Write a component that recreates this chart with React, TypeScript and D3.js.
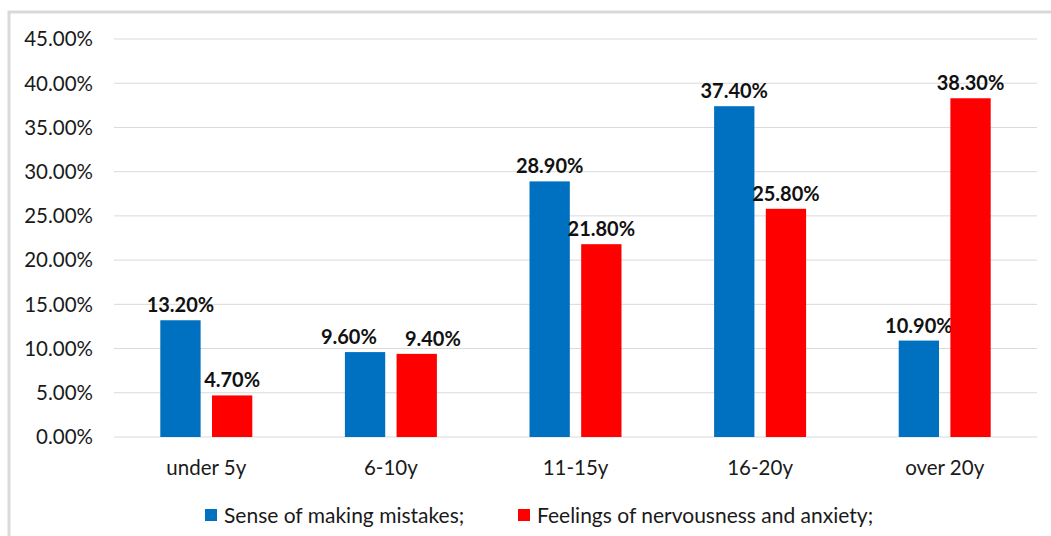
import React from "react";
import { scaleBand, scaleLinear, range } from "d3";

const categories = ["under 5y", "6-10y", "11-15y", "16-20y", "over 20y"];
const mistakes = [13.2, 9.6, 28.9, 37.4, 10.9];
const nervous = [4.7, 9.4, 21.8, 25.8, 38.3];
const seriesNames = ["Sense of making mistakes;", "Feelings of nervousness and anxiety;"];
const seriesColors = ["#0070C0", "#FF0000"];
const yTicks = range(0, 46, 5);

const W = 1051;
const H = 536;
const left = 114;
const right = 1037;
const top = 39;
const bottom = 437;
const font = "Lato, 'Open Sans', sans-serif";
const fs = 20.5;
const labelFs = 20;

// rough width of a bold value label, used to keep neighbouring labels apart
const labelWidth = (t: string) => t.length * labelFs * 0.58;

export default function App() {
  const x = scaleBand<string>().domain(categories).range([left, right]);
  const y = scaleLinear().domain([0, 45]).range([bottom, top]);
  const inner = scaleBand<number>().domain([0, 1]).range([-46, 46]).paddingInner(0.22);
  const series = [mistakes, nervous];

  return (
    <svg width={W} height={H} style={{ position: "absolute", left: 0, top: 0 }} fontFamily={font}>
      <rect x={0} y={0} width={W} height={H} fill="#fff" />
      <path d={`M9,${H} V12 H${W}`} fill="none" stroke="#d9d9d9" strokeWidth={3} />
      {yTicks.map((t) => (
        <g key={t}>
          <line x1={left} x2={right} y1={y(t)} y2={y(t)} stroke="#d9d9d9" strokeWidth={1} />
          <text x={93} y={y(t)} dy="0.36em" textAnchor="end" fontSize={fs} fill="#1a1a1a">
            {t.toFixed(2)}%
          </text>
        </g>
      ))}
      {categories.map((c, i) => {
        const cx = (x(c) ?? 0) + x.bandwidth() / 2;
        const labels = series.map((s, k) => {
          const bx = cx + (inner(k) ?? 0);
          return { t: s[i].toFixed(2) + "%", x: bx + inner.bandwidth() / 2, y: y(s[i]) - 8 };
        });
        const [a, b] = labels;
        if (Math.abs(a.y - b.y) < labelFs) {
          const need = (labelWidth(a.t) + labelWidth(b.t)) / 2 + 26;
          const have = b.x - a.x;
          if (have < need) {
            const d = (need - have) / 2;
            a.x -= d;
            b.x += d;
          }
        }
        return (
          <g key={c}>
            {series.map((s, k) => {
              const bx = cx + (inner(k) ?? 0);
              return (
                <g key={k}>
                  <rect x={bx} y={y(s[i])} width={inner.bandwidth()} height={bottom - y(s[i])} fill={seriesColors[k]} />
                  <text x={labels[k].x} y={labels[k].y} textAnchor="middle" fontSize={labelFs} fontWeight="bold" fill="#111">
                    {labels[k].t}
                  </text>
                </g>
              );
            })}
            <text x={cx} y={475} textAnchor="middle" fontSize={fs} fill="#1a1a1a">
              {c}
            </text>
          </g>
        );
      })}
      {seriesNames.map((n, k) => {
        const lx = k === 0 ? 205 : 518;
        return (
          <g key={n}>
            <rect x={lx} y={509} width={12} height={12} fill={seriesColors[k]} />
            <text x={lx + 19} y={523} fontSize={21} fill="#1a1a1a">
              {n}
            </text>
          </g>
        );
      })}
    </svg>
  );
}
